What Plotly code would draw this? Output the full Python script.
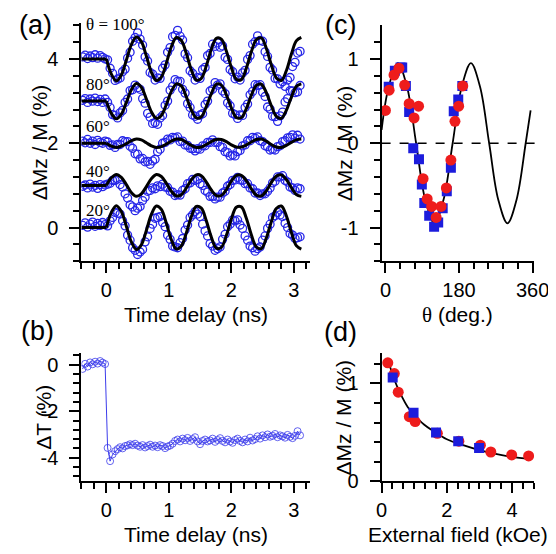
import plotly.graph_objects as go

# ---------------- data ----------------
# panel (a)/(b) time grid (ns)
t_data = [-0.38, -0.34, -0.30, -0.26, -0.22, -0.18, -0.14, -0.10, -0.06, -0.02,
          0.02, 0.06, 0.10, 0.14, 0.18, 0.22, 0.26, 0.30, 0.34, 0.38,
          0.42, 0.46, 0.50, 0.54, 0.58, 0.62, 0.66, 0.70, 0.74, 0.78,
          0.82, 0.86, 0.90, 0.94, 0.98, 1.02, 1.06, 1.10, 1.14, 1.18,
          1.22, 1.26, 1.30, 1.34, 1.38, 1.42, 1.46, 1.50, 1.54, 1.58,
          1.62, 1.66, 1.70, 1.74, 1.78, 1.82, 1.86, 1.90, 1.94, 1.98,
          2.02, 2.06, 2.10, 2.14, 2.18, 2.22, 2.26, 2.30, 2.34, 2.38,
          2.42, 2.46, 2.50, 2.54, 2.58, 2.62, 2.66, 2.70, 2.74, 2.78,
          2.82, 2.86, 2.90, 2.94, 2.98, 3.02, 3.06, 3.10]

dmz_100 = [4.05, 4.09, 4.01, 4.07, 4.03, 4.10, 4.02, 4.08, 4.04, 4.00,
           3.98, 3.78, 3.66, 3.49, 3.52, 3.55, 3.70, 3.76, 4.02, 4.16,
           4.42, 4.51, 4.62, 4.47, 4.33, 4.05, 3.95, 3.68, 3.64, 3.50,
           3.55, 3.54, 3.78, 3.86, 4.16, 4.27, 4.53, 4.56, 4.68, 4.54,
           4.45, 4.12, 4.03, 3.72, 3.66, 3.50, 3.56, 3.54, 3.75, 3.80,
           4.08, 4.13, 4.35, 4.30, 4.38, 4.28, 4.31, 4.04, 3.99, 3.75,
           3.70, 3.53, 3.57, 3.50, 3.67, 3.73, 3.99, 4.08, 4.35, 4.41,
           4.55, 4.44, 4.42, 4.17, 4.06, 3.80, 3.74, 3.54, 3.53, 3.41,
           3.46, 3.35, 3.50, 3.56, 3.82, 3.92, 4.14, 4.18]
dmz_80 = [3.02, 3.06, 2.97, 3.05, 3.00, 3.07, 2.99, 3.04, 2.97, 3.05,
          2.97, 2.85, 2.68, 2.66, 2.60, 2.72, 2.78, 2.97, 3.05, 3.25,
          3.27, 3.38, 3.32, 3.28, 3.06, 2.95, 2.71, 2.62, 2.47, 2.49,
          2.45, 2.60, 2.66, 2.90, 3.00, 3.26, 3.35, 3.51, 3.47, 3.47,
          3.28, 3.19, 2.94, 2.85, 2.67, 2.64, 2.57, 2.67, 2.70, 2.92,
          3.00, 3.24, 3.28, 3.44, 3.38, 3.41, 3.24, 3.18, 2.96, 2.89,
          2.71, 2.68, 2.59, 2.67, 2.66, 2.85, 2.93, 3.15, 3.23, 3.39,
          3.37, 3.39, 3.21, 3.11, 2.86, 2.81, 2.64, 2.63, 2.52, 2.65,
          2.74, 2.98, 3.06, 3.25, 3.24, 3.20, 3.22, 3.37]
dmz_60 = [2.05, 2.01, 2.09, 2.00, 2.05, 1.97, 2.07, 2.02, 2.00, 2.05,
          2.03, 1.95, 1.96, 1.90, 1.97, 1.97, 2.06, 2.04, 2.04, 1.93,
          1.88, 1.75, 1.74, 1.63, 1.64, 1.56, 1.57, 1.50, 1.58, 1.62,
          1.80, 1.86, 2.00, 2.02, 2.10, 2.08, 2.14, 2.13, 2.15, 2.04,
          2.05, 1.96, 1.95, 1.88, 1.87, 1.82, 1.87, 1.86, 1.94, 1.94,
          2.02, 2.02, 2.08, 2.02, 2.02, 1.92, 1.90, 1.80, 1.78, 1.70,
          1.72, 1.70, 1.80, 1.83, 1.94, 1.96, 2.06, 2.06, 2.14, 2.12,
          2.15, 2.06, 2.04, 1.94, 1.92, 1.84, 1.86, 1.84, 1.92, 1.94,
          2.04, 2.06, 2.13, 2.14, 2.20, 2.12, 2.19, 2.10]
dmz_40 = [0.98, 1.01, 0.94, 1.03, 0.96, 1.00, 0.93, 1.02, 0.97, 1.01,
          1.03, 1.05, 1.12, 1.12, 1.15, 1.02, 0.96, 0.80, 0.70, 0.54,
          0.49, 0.40, 0.46, 0.50, 0.64, 0.72, 0.86, 0.88, 0.94, 0.92,
          0.99, 0.97, 1.03, 0.96, 0.95, 0.86, 0.84, 0.76, 0.78, 0.77,
          0.88, 0.92, 1.04, 1.06, 1.14, 1.12, 1.14, 1.04, 1.00, 0.88,
          0.84, 0.74, 0.74, 0.68, 0.72, 0.72, 0.82, 0.86, 0.98, 1.02,
          1.12, 1.13, 1.19, 1.13, 1.12, 1.04, 1.04, 0.94, 0.92, 0.82,
          0.82, 0.76, 0.80, 0.80, 0.86, 0.94, 1.06, 1.10, 1.20, 1.20,
          1.23, 1.12, 1.08, 0.96, 0.94, 0.88, 0.94, 0.92]
dmz_20 = [0.05, 0.11, 0.01, 0.08, 0.13, 0.03, 0.10, 0.05, 0.12, 0.07,
          0.04, 0.16, 0.24, 0.36, 0.34, 0.32, 0.16, 0.04, -0.18, -0.30,
          -0.48, -0.54, -0.64, -0.58, -0.52, -0.34, -0.22, -0.02, 0.08, 0.22,
          0.24, 0.26, 0.12, 0.02, -0.18, -0.28, -0.44, -0.46, -0.48, -0.36,
          -0.26, -0.06, 0.06, 0.24, 0.30, 0.38, 0.32, 0.26, 0.08, -0.08,
          -0.20, -0.38, -0.44, -0.54, -0.50, -0.46, -0.28, -0.16, 0.02, 0.08,
          0.18, 0.16, 0.18, 0.06, -0.02, -0.20, -0.30, -0.44, -0.48, -0.56,
          -0.50, -0.46, -0.30, -0.20, -0.02, 0.08, 0.24, 0.28, 0.36, 0.30,
          0.26, 0.10, 0.00, -0.14, -0.18, -0.26, -0.24, -0.22]

# fitted curves of panel (a)
t_fit = [0.00, 0.08, 0.16, 0.24, 0.32, 0.40, 0.48, 0.56, 0.64, 0.72,
         0.80, 0.88, 0.96, 1.04, 1.12, 1.20, 1.28, 1.36, 1.44, 1.52,
         1.60, 1.68, 1.76, 1.84, 1.92, 2.00, 2.08, 2.16, 2.24, 2.32,
         2.40, 2.48, 2.56, 2.64, 2.72, 2.80, 2.88, 2.96, 3.04, 3.12]
fit_100 = [4.00, 3.64, 3.48, 3.62, 3.97, 4.34, 4.52, 4.41, 4.07, 3.69,
           3.49, 3.57, 3.90, 4.29, 4.51, 4.44, 4.13, 3.74, 3.50, 3.54,
           3.84, 4.23, 4.49, 4.47, 4.19, 3.80, 3.52, 3.51, 3.78, 4.17,
           4.46, 4.50, 4.25, 3.86, 3.55, 3.49, 3.72, 4.11, 4.43, 4.51]
fit_80 = [3.00, 2.71, 2.58, 2.69, 2.97, 3.27, 3.42, 3.33, 3.05, 2.75,
          2.59, 2.66, 2.92, 3.23, 3.41, 3.36, 3.10, 2.79, 2.60, 2.63,
          2.87, 3.18, 3.40, 3.38, 3.15, 2.84, 2.61, 2.61, 2.82, 3.14,
          3.37, 3.40, 3.20, 2.89, 2.64, 2.59, 2.78, 3.09, 3.35, 3.41]
fit_60 = [2.00, 1.93, 1.90, 1.93, 1.99, 2.06, 2.10, 2.08, 2.01, 1.94,
          1.90, 1.92, 1.98, 2.05, 2.10, 2.09, 2.02, 1.95, 1.90, 1.91,
          1.97, 2.04, 2.09, 2.09, 2.04, 1.96, 1.91, 1.91, 1.96, 2.03,
          2.09, 2.10, 2.05, 1.97, 1.91, 1.90, 1.95, 2.02, 2.08, 2.10]
fit_40 = [1.00, 1.18, 1.26, 1.19, 1.02, 0.83, 0.74, 0.80, 0.97, 1.16,
          1.26, 1.21, 1.05, 0.86, 0.75, 0.78, 0.94, 1.13, 1.25, 1.23,
          1.08, 0.89, 0.76, 0.76, 0.90, 1.10, 1.24, 1.24, 1.11, 0.92,
          0.77, 0.75, 0.87, 1.07, 1.22, 1.25, 1.14, 0.95, 0.78, 0.74]
fit_20 = [0.00, 0.36, 0.52, 0.38, 0.03, -0.34, -0.52, -0.41, -0.07, 0.31,
          0.51, 0.43, 0.10, -0.29, -0.51, -0.44, -0.13, 0.26, 0.50, 0.46,
          0.16, -0.23, -0.49, -0.47, -0.19, 0.20, 0.48, 0.49, 0.22, -0.17,
          -0.46, -0.50, -0.25, 0.14, 0.45, 0.51, 0.28, -0.11, -0.43, -0.51]
t_pre = [-0.40, 0.00]
baselines = [4.0, 3.0, 2.0, 1.0, 0.0]
angle_labels = ["θ = 100°", "80°", "60°", "40°", "20°"]
angle_label_y = [4.81, 3.40, 2.40, 1.33, 0.40]

# panel (b)
dT = [-0.18, 0.04, -0.08, 0.10, 0.02, 0.13, 0.05, 0.16, 0.09, 0.03,
      -3.58, -4.15, -3.86, -3.72, -3.63, -3.55, -3.60, -3.50, -3.47, -3.42,
      -3.46, -3.40, -3.48, -3.53, -3.46, -3.56, -3.50, -3.44, -3.53, -3.48,
      -3.55, -3.46, -3.50, -3.59, -3.52, -3.48, -3.40, -3.28, -3.22, -3.30,
      -3.18, -3.25, -3.15, -3.28, -3.20, -3.12, -3.30, -3.42, -3.28, -3.22,
      -3.30, -3.26, -3.18, -3.32, -3.24, -3.16, -3.28, -3.34, -3.22, -3.30,
      -3.36, -3.24, -3.18, -3.28, -3.34, -3.22, -3.30, -3.14, -3.26, -3.20,
      -3.08, -3.18, -3.04, -3.12, -3.00, -3.10, -3.06, -2.98, -3.12, -3.04,
      -3.08, -3.14, -3.02, -3.10, -3.16, -3.06, -2.86, -3.04]

# panel (c)
theta_red = [0, 9, 21, 33, 47, 58, 70, 81, 92, 102, 113, 124, 136, 149, 160, 170, 179, 189]
dmz_red_c = [0.39, 0.63, 0.81, 0.89, 0.69, 0.47, 0.30, 0.44, -0.42, -0.66, -0.75, -0.88,
             -0.75, -0.53, -0.20, 0.26, 0.44, 0.68]
theta_blue = [8, 23, 37, 41, 50, 58, 68, 82, 89, 95, 107, 119, 129, 140, 150, 160, 167, 178, 188]
dmz_blue_c = [0.67, 0.86, 0.90, 0.90, 0.68, 0.37, -0.06, -0.19, -0.49, -0.71, -0.86, -0.99,
              -0.94, -0.77, -0.57, -0.29, 0.38, 0.52, 0.68]
theta_fit = [-9.4, 8.0, 30.4, 52.7, 75.0, 97.3, 119.7, 142.0, 164.3, 186.6, 209.0,
             231.3, 253.6, 275.9, 298.3, 320.6, 342.9, 355.0]
dmz_fit_c = [0.16, 0.67, 0.95, 0.67, 0.00, -0.67, -0.95, -0.67, 0.00, 0.67, 0.95,
             0.67, 0.00, -0.67, -0.95, -0.67, 0.00, 0.39]

# panel (d)
field_red = [0.19, 0.39, 0.51, 0.85, 1.03, 1.71, 2.37, 3.03, 3.35, 3.99, 4.51]
dmz_red_d = [1.21, 1.10, 0.91, 0.66, 0.61, 0.49, 0.41, 0.37, 0.30, 0.27, 0.26]
field_blue = [0.34, 0.98, 1.67, 2.35, 2.99]
dmz_blue_d = [1.06, 0.70, 0.50, 0.41, 0.34]
field_fit = [0.25, 0.40, 0.60, 0.80, 1.00, 1.30, 1.60, 2.00, 2.50, 3.00, 3.50, 4.00, 4.55]
dmz_fit_d = [1.18, 1.03, 0.88, 0.76, 0.68, 0.58, 0.51, 0.43, 0.37, 0.32, 0.28, 0.25, 0.23]

# tick positions / labels
ticks_t = [0, 1, 2, 3]
minor_t = [-0.4, -0.2, 0.2, 0.4, 0.6, 0.8, 1.2, 1.4, 1.6, 1.8, 2.2, 2.4, 2.6, 2.8, 3.2]
ticks_a_y = [0, 2, 4]
minor_a_y = [-0.8, -0.4, 0.4, 0.8, 1.2, 1.6, 2.4, 2.8, 3.2, 3.6, 4.4, 4.8]
ticks_b_y = [-4, -2, 0]
ticks_b_lbl = ["-4", "-2", "0"]
minor_b_y = [-4.8, -4.4, -3.6, -3.2, -2.8, -2.4, -1.6, -1.2, -0.8, -0.4, 0.4]
ticks_c_x = [0, 180, 360]
minor_c_x = [36, 72, 108, 144, 216, 252, 288, 324]
ticks_c_y = [-1, 0, 1]
ticks_c_lbl = ["-1", "0", "1"]
minor_c_y = [-1.4, -1.2, -0.8, -0.6, -0.4, -0.2, 0.2, 0.4, 0.6, 0.8, 1.2]
ticks_d_x = [0, 2, 4]
minor_d_x = [0.333, 0.667, 1.0, 1.333, 1.667, 2.333, 2.667, 3.0, 3.333, 3.667, 4.333, 4.667]
ticks_d_y = [0, 1]
minor_d_y = [0.2, 0.4, 0.6, 0.8, 1.2]

# ---------------- figure ----------------
SANS = "Liberation Sans, Arial, Helvetica, sans-serif"
SERIF = "Liberation Serif, Times New Roman, serif"
BLUE_A = "rgb(38,38,232)"
BLUE_B = "rgb(60,60,235)"
RED = "rgb(238,28,28)"
BLUE_SQ = "rgb(28,28,220)"

fig = go.Figure()

series_a = [(dmz_100, fit_100), (dmz_80, fit_80), (dmz_60, fit_60),
            (dmz_40, fit_40), (dmz_20, fit_20)]
for data, fit in series_a:
    fig.add_trace(go.Scatter(x=t_data, y=data, mode="markers", xaxis="x", yaxis="y",
                             marker=dict(symbol="circle-open", size=8, color=BLUE_A,
                                         line=dict(width=1.3, color=BLUE_A)),
                             showlegend=False))
for (data, fit), base in zip(series_a, baselines):
    fig.add_trace(go.Scatter(x=t_pre, y=[base, base], mode="lines", xaxis="x", yaxis="y",
                             line=dict(color="black", width=3), showlegend=False))
    fig.add_trace(go.Scatter(x=t_fit, y=fit, mode="lines", xaxis="x", yaxis="y",
                             line=dict(color="black", width=3, shape="spline"),
                             showlegend=False))

fig.add_trace(go.Scatter(x=t_data, y=dT, mode="lines+markers", xaxis="x2", yaxis="y2",
                         line=dict(color=BLUE_B, width=1),
                         marker=dict(symbol="circle-open", size=7, color=BLUE_B,
                                     line=dict(width=0.8, color=BLUE_B)),
                         showlegend=False))

fig.add_trace(go.Scatter(x=theta_fit, y=dmz_fit_c, mode="lines", xaxis="x3", yaxis="y3",
                         line=dict(color="black", width=1.8, shape="spline"), showlegend=False))
fig.add_trace(go.Scatter(x=theta_blue, y=dmz_blue_c, mode="markers", xaxis="x3", yaxis="y3",
                         marker=dict(symbol="square", size=10, color=BLUE_SQ), showlegend=False))
fig.add_trace(go.Scatter(x=theta_red, y=dmz_red_c, mode="markers", xaxis="x3", yaxis="y3",
                         marker=dict(symbol="circle", size=11, color=RED), showlegend=False))

fig.add_trace(go.Scatter(x=field_fit, y=dmz_fit_d, mode="lines", xaxis="x4", yaxis="y4",
                         line=dict(color="black", width=1.8, shape="spline"), showlegend=False))
fig.add_trace(go.Scatter(x=field_red, y=dmz_red_d, mode="markers", xaxis="x4", yaxis="y4",
                         marker=dict(symbol="circle", size=11, color=RED), showlegend=False))
fig.add_trace(go.Scatter(x=field_blue, y=dmz_blue_d, mode="markers", xaxis="x4", yaxis="y4",
                         marker=dict(symbol="square", size=10, color=BLUE_SQ), showlegend=False))


def axis(domain, rng, anchor, tickvals, ticktext, minor_vals, standoff):
    return dict(domain=domain, range=rng, anchor=anchor, showline=True, linecolor="black",
                linewidth=2, ticks="outside", ticklen=10, tickwidth=2, tickcolor="black",
                tickmode="array", tickvals=tickvals, ticktext=ticktext,
                minor=dict(tickmode="array", tickvals=minor_vals, ticks="outside",
                           ticklen=6, tickwidth=2, tickcolor="black", showgrid=False),
                showgrid=False, zeroline=False, ticklabelstandoff=standoff,
                tickfont=dict(family=SANS, size=20, color="black"))


xa_dom = [0.1259, 0.5534]
xc_dom = [0.6871, 0.9723]
ya_dom = [0.5336, 0.9721]
yb_dom = [0.1291, 0.3644]
yc_dom = [0.5336, 0.9682]
yd_dom = [0.1282, 0.3646]

fig.update_layout(
    width=556, height=554, margin=dict(l=0, r=0, t=0, b=0),
    paper_bgcolor="white", plot_bgcolor="white", showlegend=False,
    font=dict(family=SANS, size=20, color="black"),
    xaxis=axis(xa_dom, [-0.4, 3.26], "y", ticks_t, [str(v) for v in ticks_t], minor_t, 0),
    yaxis=axis(ya_dom, [-0.8, 4.85], "x", ticks_a_y, [str(v) for v in ticks_a_y], minor_a_y, 7),
    xaxis2=axis(xa_dom, [-0.4, 3.26], "y2", ticks_t, [str(v) for v in ticks_t], minor_t, 0),
    yaxis2=axis(yb_dom, [-5.0, 0.5], "x2", ticks_b_y, ticks_b_lbl, minor_b_y, 7),
    xaxis3=axis(xc_dom, [-9.4, 363.7], "y3", ticks_c_x, [str(v) for v in ticks_c_x], minor_c_x, 0),
    yaxis3=axis(yc_dom, [-1.4, 1.4], "x3", ticks_c_y, ticks_c_lbl, minor_c_y, 7),
    xaxis4=axis(xc_dom, [0, 4.68], "y4", ticks_d_x, [str(v) for v in ticks_d_x], minor_d_x, 0),
    yaxis4=axis(yd_dom, [0, 1.31], "x4", ticks_d_y, [str(v) for v in ticks_d_y], minor_d_y, 7),
)

# dashed zero line in (c), running slightly past the axis end as in the original
fig.add_shape(type="line", xref="x3 domain", yref="y3 domain", x0=0, x1=1.047, y0=0.5, y1=0.5,
              line=dict(color="black", width=1.5, dash="dash"))

ann = []
# panel letters
for txt, x, y in [("(a)", 0.040, 0.968), ("(b)", 0.043, 0.406),
                  ("(c)", 0.610, 0.969), ("(d)", 0.610, 0.404)]:
    ann.append(dict(text=txt, x=x, y=y, xref="paper", yref="paper", showarrow=False,
                    font=dict(family=SANS, size=27, color="black"),
                    xanchor="center", yanchor="middle"))
# axis titles
theta_html = '<span style="font-family:Liberation Serif">θ</span> (deg.)'
titles = [("Time delay (ns)", 0.341, 0.435, 0), ("Time delay (ns)", 0.341, 0.031, 0),
          (theta_html, 0.829, 0.435, 0), ("External field (kOe)", 0.829, 0.031, 0),
          ("ΔMz / M (%)", 0.047, 0.753, -90), ("ΔT (%)", 0.056, 0.247, -90),
          ("ΔMz / M (%)", 0.617, 0.751, -90), ("ΔMz / M (%)", 0.615, 0.246, -90)]
for txt, x, y, ang in titles:
    ann.append(dict(text=txt, x=x, y=y, xref="paper", yref="paper", showarrow=False,
                    textangle=ang, font=dict(family=SANS, size=21, color="black"),
                    xanchor="center", yanchor="middle"))
# angle labels in (a)
for txt, yv in zip(angle_labels, angle_label_y):
    ann.append(dict(text=txt, x=-0.35, y=yv, xref="x", yref="y", showarrow=False,
                    font=dict(family=SERIF, size=17, color="black"),
                    xanchor="left", yanchor="middle"))
fig.update_layout(annotations=ann)

fig.write_html("out.html")
